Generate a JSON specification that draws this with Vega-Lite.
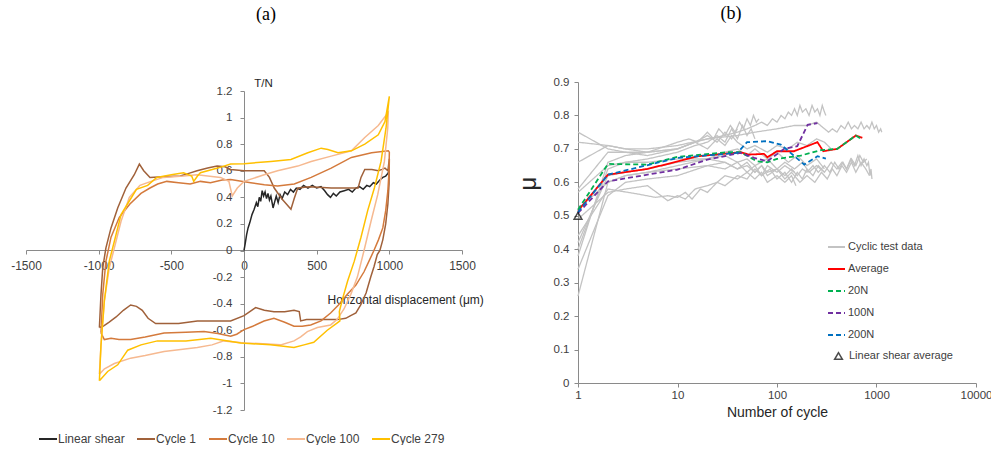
{
"$schema": "https://vega.github.io/schema/vega-lite/v6.json",
"padding": {"left": 10, "top": 5, "right": 0, "bottom": 0},
"bounds": "flush",
"spacing": 116,
"config": {"view": {"stroke": null}, "font": "Liberation Sans", "axis": {"grid": false, "domainColor": "#8a8a8a", "tickColor": "#8a8a8a", "labelColor": "#404040", "titleColor": "#262626", "titleFontWeight": "normal", "labelFlush": false}, "title": {"font": "Liberation Serif", "fontSize": 18, "fontWeight": "normal", "color": "#000000"}},
"resolve": {"scale": {"color": "independent", "strokeDash": "independent", "shape": "independent", "x": "independent", "y": "independent"}},
"hconcat": [
{
"width": 436, "height": 328,
"title": {"text": "(a)", "dx": 22, "offset": 44, "baseline": "middle"},
"data": {"values": [
{"s":"Linear shear","o":1,"x":0,"y":0},{"s":"Linear shear","o":2,"x":8,"y":0.05},{"s":"Linear shear","o":3,"x":18,"y":0.12},{"s":"Linear shear","o":4,"x":28,"y":0.17},{"s":"Linear shear","o":5,"x":40,"y":0.21},{"s":"Linear shear","o":6,"x":55,"y":0.27},{"s":"Linear shear","o":7,"x":70,"y":0.31},{"s":"Linear shear","o":8,"x":85,"y":0.36},{"s":"Linear shear","o":9,"x":95,"y":0.33},{"s":"Linear shear","o":10,"x":105,"y":0.4},{"s":"Linear shear","o":11,"x":115,"y":0.37},{"s":"Linear shear","o":12,"x":125,"y":0.45},{"s":"Linear shear","o":13,"x":135,"y":0.41},{"s":"Linear shear","o":14,"x":145,"y":0.44},{"s":"Linear shear","o":15,"x":155,"y":0.39},{"s":"Linear shear","o":16,"x":165,"y":0.43},{"s":"Linear shear","o":17,"x":175,"y":0.38},{"s":"Linear shear","o":18,"x":185,"y":0.41},{"s":"Linear shear","o":19,"x":200,"y":0.32},{"s":"Linear shear","o":20,"x":212,"y":0.37},{"s":"Linear shear","o":21,"x":222,"y":0.41},{"s":"Linear shear","o":22,"x":235,"y":0.36},{"s":"Linear shear","o":23,"x":248,"y":0.42},{"s":"Linear shear","o":24,"x":262,"y":0.39},{"s":"Linear shear","o":25,"x":280,"y":0.44},{"s":"Linear shear","o":26,"x":300,"y":0.42},{"s":"Linear shear","o":27,"x":320,"y":0.46},{"s":"Linear shear","o":28,"x":340,"y":0.44},{"s":"Linear shear","o":29,"x":360,"y":0.47},{"s":"Linear shear","o":30,"x":385,"y":0.46},{"s":"Linear shear","o":31,"x":410,"y":0.49},{"s":"Linear shear","o":32,"x":440,"y":0.47},{"s":"Linear shear","o":33,"x":470,"y":0.49},{"s":"Linear shear","o":34,"x":500,"y":0.47},{"s":"Linear shear","o":35,"x":530,"y":0.48},{"s":"Linear shear","o":36,"x":555,"y":0.45},{"s":"Linear shear","o":37,"x":575,"y":0.42},{"s":"Linear shear","o":38,"x":595,"y":0.4},{"s":"Linear shear","o":39,"x":615,"y":0.43},{"s":"Linear shear","o":40,"x":635,"y":0.41},{"s":"Linear shear","o":41,"x":660,"y":0.44},{"s":"Linear shear","o":42,"x":690,"y":0.45},{"s":"Linear shear","o":43,"x":720,"y":0.46},{"s":"Linear shear","o":44,"x":745,"y":0.44},{"s":"Linear shear","o":45,"x":770,"y":0.47},{"s":"Linear shear","o":46,"x":795,"y":0.48},{"s":"Linear shear","o":47,"x":820,"y":0.46},{"s":"Linear shear","o":48,"x":845,"y":0.49},{"s":"Linear shear","o":49,"x":865,"y":0.48},{"s":"Linear shear","o":50,"x":890,"y":0.51},{"s":"Linear shear","o":51,"x":910,"y":0.5},{"s":"Linear shear","o":52,"x":935,"y":0.53},{"s":"Linear shear","o":53,"x":955,"y":0.55},{"s":"Linear shear","o":54,"x":975,"y":0.56},{"s":"Linear shear","o":55,"x":990,"y":0.58},{"s":"Linear shear","o":56,"x":1000,"y":0.6},
{"s":"Cycle 1","o":1,"x":-995,"y":-0.58},{"s":"Cycle 1","o":2,"x":-984,"y":-0.33},{"s":"Cycle 1","o":3,"x":-972,"y":-0.13},{"s":"Cycle 1","o":4,"x":-950,"y":0.02},{"s":"Cycle 1","o":5,"x":-915,"y":0.17},{"s":"Cycle 1","o":6,"x":-869,"y":0.32},{"s":"Cycle 1","o":7,"x":-812,"y":0.47},{"s":"Cycle 1","o":8,"x":-755,"y":0.57},{"s":"Cycle 1","o":9,"x":-720,"y":0.65},{"s":"Cycle 1","o":10,"x":-690,"y":0.6},{"s":"Cycle 1","o":11,"x":-647,"y":0.55},{"s":"Cycle 1","o":12,"x":-560,"y":0.555},{"s":"Cycle 1","o":13,"x":-439,"y":0.56},{"s":"Cycle 1","o":14,"x":-380,"y":0.58},{"s":"Cycle 1","o":15,"x":-323,"y":0.6},{"s":"Cycle 1","o":16,"x":-250,"y":0.62},{"s":"Cycle 1","o":17,"x":-185,"y":0.635},{"s":"Cycle 1","o":18,"x":-130,"y":0.63},{"s":"Cycle 1","o":19,"x":-92,"y":0.61},{"s":"Cycle 1","o":20,"x":0,"y":0.6},{"s":"Cycle 1","o":21,"x":139,"y":0.6},{"s":"Cycle 1","o":22,"x":175,"y":0.55},{"s":"Cycle 1","o":23,"x":208,"y":0.47},{"s":"Cycle 1","o":24,"x":260,"y":0.39},{"s":"Cycle 1","o":25,"x":323,"y":0.31},{"s":"Cycle 1","o":26,"x":345,"y":0.39},{"s":"Cycle 1","o":27,"x":370,"y":0.47},{"s":"Cycle 1","o":28,"x":450,"y":0.48},{"s":"Cycle 1","o":29,"x":600,"y":0.47},{"s":"Cycle 1","o":30,"x":700,"y":0.47},{"s":"Cycle 1","o":31,"x":785,"y":0.47},{"s":"Cycle 1","o":32,"x":805,"y":0.55},{"s":"Cycle 1","o":33,"x":831,"y":0.61},{"s":"Cycle 1","o":34,"x":880,"y":0.61},{"s":"Cycle 1","o":35,"x":924,"y":0.6},{"s":"Cycle 1","o":36,"x":950,"y":0.61},{"s":"Cycle 1","o":37,"x":970,"y":0.62},{"s":"Cycle 1","o":38,"x":990,"y":0.6},{"s":"Cycle 1","o":39,"x":1000,"y":0.69},{"s":"Cycle 1","o":40,"x":998,"y":0.5},{"s":"Cycle 1","o":41,"x":990,"y":0.35},{"s":"Cycle 1","o":42,"x":975,"y":0.2},{"s":"Cycle 1","o":43,"x":955,"y":0.08},{"s":"Cycle 1","o":44,"x":935,"y":0},{"s":"Cycle 1","o":45,"x":917,"y":-0.03},{"s":"Cycle 1","o":46,"x":895,"y":-0.12},{"s":"Cycle 1","o":47,"x":872,"y":-0.2},{"s":"Cycle 1","o":48,"x":840,"y":-0.32},{"s":"Cycle 1","o":49,"x":803,"y":-0.41},{"s":"Cycle 1","o":50,"x":770,"y":-0.47},{"s":"Cycle 1","o":51,"x":734,"y":-0.49},{"s":"Cycle 1","o":52,"x":700,"y":-0.51},{"s":"Cycle 1","o":53,"x":642,"y":-0.52},{"s":"Cycle 1","o":54,"x":505,"y":-0.52},{"s":"Cycle 1","o":55,"x":430,"y":-0.52},{"s":"Cycle 1","o":56,"x":390,"y":-0.53},{"s":"Cycle 1","o":57,"x":380,"y":-0.46},{"s":"Cycle 1","o":58,"x":344,"y":-0.45},{"s":"Cycle 1","o":59,"x":280,"y":-0.46},{"s":"Cycle 1","o":60,"x":206,"y":-0.46},{"s":"Cycle 1","o":61,"x":140,"y":-0.45},{"s":"Cycle 1","o":62,"x":80,"y":-0.43},{"s":"Cycle 1","o":63,"x":40,"y":-0.46},{"s":"Cycle 1","o":64,"x":0,"y":-0.49},{"s":"Cycle 1","o":65,"x":-92,"y":-0.53},{"s":"Cycle 1","o":66,"x":-321,"y":-0.53},{"s":"Cycle 1","o":67,"x":-450,"y":-0.55},{"s":"Cycle 1","o":68,"x":-608,"y":-0.55},{"s":"Cycle 1","o":69,"x":-660,"y":-0.51},{"s":"Cycle 1","o":70,"x":-700,"y":-0.45},{"s":"Cycle 1","o":71,"x":-740,"y":-0.42},{"s":"Cycle 1","o":72,"x":-780,"y":-0.41},{"s":"Cycle 1","o":73,"x":-830,"y":-0.45},{"s":"Cycle 1","o":74,"x":-880,"y":-0.5},{"s":"Cycle 1","o":75,"x":-930,"y":-0.54},{"s":"Cycle 1","o":76,"x":-970,"y":-0.57},{"s":"Cycle 1","o":77,"x":-995,"y":-0.58},
{"s":"Cycle 10","o":1,"x":-984,"y":-0.62},{"s":"Cycle 10","o":2,"x":-972,"y":-0.33},{"s":"Cycle 10","o":3,"x":-950,"y":-0.08},{"s":"Cycle 10","o":4,"x":-915,"y":0.1},{"s":"Cycle 10","o":5,"x":-858,"y":0.25},{"s":"Cycle 10","o":6,"x":-785,"y":0.35},{"s":"Cycle 10","o":7,"x":-709,"y":0.43},{"s":"Cycle 10","o":8,"x":-647,"y":0.47},{"s":"Cycle 10","o":9,"x":-594,"y":0.5},{"s":"Cycle 10","o":10,"x":-531,"y":0.52},{"s":"Cycle 10","o":11,"x":-450,"y":0.51},{"s":"Cycle 10","o":12,"x":-370,"y":0.5},{"s":"Cycle 10","o":13,"x":-300,"y":0.52},{"s":"Cycle 10","o":14,"x":-231,"y":0.51},{"s":"Cycle 10","o":15,"x":-150,"y":0.53},{"s":"Cycle 10","o":16,"x":-92,"y":0.535},{"s":"Cycle 10","o":17,"x":46,"y":0.51},{"s":"Cycle 10","o":18,"x":140,"y":0.495},{"s":"Cycle 10","o":19,"x":231,"y":0.485},{"s":"Cycle 10","o":20,"x":346,"y":0.5},{"s":"Cycle 10","o":21,"x":462,"y":0.55},{"s":"Cycle 10","o":22,"x":600,"y":0.62},{"s":"Cycle 10","o":23,"x":739,"y":0.7},{"s":"Cycle 10","o":24,"x":878,"y":0.735},{"s":"Cycle 10","o":25,"x":993,"y":0.75},{"s":"Cycle 10","o":26,"x":1000,"y":0.74},{"s":"Cycle 10","o":27,"x":998,"y":0.6},{"s":"Cycle 10","o":28,"x":990,"y":0.45},{"s":"Cycle 10","o":29,"x":975,"y":0.3},{"s":"Cycle 10","o":30,"x":955,"y":0.17},{"s":"Cycle 10","o":31,"x":925,"y":0.08},{"s":"Cycle 10","o":32,"x":894,"y":0},{"s":"Cycle 10","o":33,"x":860,"y":-0.08},{"s":"Cycle 10","o":34,"x":826,"y":-0.16},{"s":"Cycle 10","o":35,"x":770,"y":-0.26},{"s":"Cycle 10","o":36,"x":711,"y":-0.33},{"s":"Cycle 10","o":37,"x":650,"y":-0.41},{"s":"Cycle 10","o":38,"x":596,"y":-0.47},{"s":"Cycle 10","o":39,"x":530,"y":-0.53},{"s":"Cycle 10","o":40,"x":459,"y":-0.56},{"s":"Cycle 10","o":41,"x":400,"y":-0.57},{"s":"Cycle 10","o":42,"x":344,"y":-0.57},{"s":"Cycle 10","o":43,"x":280,"y":-0.54},{"s":"Cycle 10","o":44,"x":206,"y":-0.51},{"s":"Cycle 10","o":45,"x":138,"y":-0.53},{"s":"Cycle 10","o":46,"x":60,"y":-0.57},{"s":"Cycle 10","o":47,"x":0,"y":-0.595},{"s":"Cycle 10","o":48,"x":-50,"y":-0.63},{"s":"Cycle 10","o":49,"x":-92,"y":-0.645},{"s":"Cycle 10","o":50,"x":-180,"y":-0.625},{"s":"Cycle 10","o":51,"x":-275,"y":-0.61},{"s":"Cycle 10","o":52,"x":-400,"y":-0.615},{"s":"Cycle 10","o":53,"x":-550,"y":-0.62},{"s":"Cycle 10","o":54,"x":-680,"y":-0.65},{"s":"Cycle 10","o":55,"x":-780,"y":-0.67},{"s":"Cycle 10","o":56,"x":-860,"y":-0.67},{"s":"Cycle 10","o":57,"x":-915,"y":-0.66},{"s":"Cycle 10","o":58,"x":-961,"y":-0.67},{"s":"Cycle 10","o":59,"x":-984,"y":-0.62},
{"s":"Cycle 100","o":1,"x":-995,"y":-0.93},{"s":"Cycle 100","o":2,"x":-984,"y":-0.71},{"s":"Cycle 100","o":3,"x":-961,"y":-0.38},{"s":"Cycle 100","o":4,"x":-927,"y":-0.13},{"s":"Cycle 100","o":5,"x":-892,"y":0.02},{"s":"Cycle 100","o":6,"x":-846,"y":0.22},{"s":"Cycle 100","o":7,"x":-789,"y":0.4},{"s":"Cycle 100","o":8,"x":-716,"y":0.49},{"s":"Cycle 100","o":9,"x":-640,"y":0.52},{"s":"Cycle 100","o":10,"x":-554,"y":0.55},{"s":"Cycle 100","o":11,"x":-416,"y":0.56},{"s":"Cycle 100","o":12,"x":-323,"y":0.57},{"s":"Cycle 100","o":13,"x":-162,"y":0.55},{"s":"Cycle 100","o":14,"x":-104,"y":0.52},{"s":"Cycle 100","o":15,"x":-81,"y":0.41},{"s":"Cycle 100","o":16,"x":-46,"y":0.47},{"s":"Cycle 100","o":17,"x":0,"y":0.52},{"s":"Cycle 100","o":18,"x":139,"y":0.57},{"s":"Cycle 100","o":19,"x":231,"y":0.6},{"s":"Cycle 100","o":20,"x":370,"y":0.635},{"s":"Cycle 100","o":21,"x":462,"y":0.67},{"s":"Cycle 100","o":22,"x":600,"y":0.71},{"s":"Cycle 100","o":23,"x":739,"y":0.75},{"s":"Cycle 100","o":24,"x":831,"y":0.85},{"s":"Cycle 100","o":25,"x":924,"y":0.94},{"s":"Cycle 100","o":26,"x":993,"y":1.04},{"s":"Cycle 100","o":27,"x":989,"y":0.92},{"s":"Cycle 100","o":28,"x":966,"y":0.67},{"s":"Cycle 100","o":29,"x":920,"y":0.42},{"s":"Cycle 100","o":30,"x":874,"y":0.22},{"s":"Cycle 100","o":31,"x":826,"y":0},{"s":"Cycle 100","o":32,"x":780,"y":-0.2},{"s":"Cycle 100","o":33,"x":735,"y":-0.33},{"s":"Cycle 100","o":34,"x":688,"y":-0.44},{"s":"Cycle 100","o":35,"x":640,"y":-0.52},{"s":"Cycle 100","o":36,"x":596,"y":-0.56},{"s":"Cycle 100","o":37,"x":505,"y":-0.58},{"s":"Cycle 100","o":38,"x":436,"y":-0.61},{"s":"Cycle 100","o":39,"x":390,"y":-0.65},{"s":"Cycle 100","o":40,"x":344,"y":-0.68},{"s":"Cycle 100","o":41,"x":252,"y":-0.71},{"s":"Cycle 100","o":42,"x":100,"y":-0.7},{"s":"Cycle 100","o":43,"x":0,"y":-0.695},{"s":"Cycle 100","o":44,"x":-138,"y":-0.68},{"s":"Cycle 100","o":45,"x":-220,"y":-0.71},{"s":"Cycle 100","o":46,"x":-321,"y":-0.73},{"s":"Cycle 100","o":47,"x":-550,"y":-0.76},{"s":"Cycle 100","o":48,"x":-680,"y":-0.79},{"s":"Cycle 100","o":49,"x":-780,"y":-0.81},{"s":"Cycle 100","o":50,"x":-892,"y":-0.85},{"s":"Cycle 100","o":51,"x":-960,"y":-0.89},{"s":"Cycle 100","o":52,"x":-995,"y":-0.93},
{"s":"Cycle 279","o":1,"x":-995,"y":-0.98},{"s":"Cycle 279","o":2,"x":-984,"y":-0.71},{"s":"Cycle 279","o":3,"x":-961,"y":-0.38},{"s":"Cycle 279","o":4,"x":-927,"y":-0.08},{"s":"Cycle 279","o":5,"x":-892,"y":0.07},{"s":"Cycle 279","o":6,"x":-846,"y":0.27},{"s":"Cycle 279","o":7,"x":-785,"y":0.38},{"s":"Cycle 279","o":8,"x":-740,"y":0.46},{"s":"Cycle 279","o":9,"x":-663,"y":0.49},{"s":"Cycle 279","o":10,"x":-600,"y":0.55},{"s":"Cycle 279","o":11,"x":-500,"y":0.57},{"s":"Cycle 279","o":12,"x":-416,"y":0.585},{"s":"Cycle 279","o":13,"x":-360,"y":0.56},{"s":"Cycle 279","o":14,"x":-346,"y":0.52},{"s":"Cycle 279","o":15,"x":-320,"y":0.56},{"s":"Cycle 279","o":16,"x":-300,"y":0.585},{"s":"Cycle 279","o":17,"x":-181,"y":0.62},{"s":"Cycle 279","o":18,"x":-92,"y":0.65},{"s":"Cycle 279","o":19,"x":0,"y":0.653},{"s":"Cycle 279","o":20,"x":185,"y":0.67},{"s":"Cycle 279","o":21,"x":323,"y":0.685},{"s":"Cycle 279","o":22,"x":439,"y":0.735},{"s":"Cycle 279","o":23,"x":531,"y":0.77},{"s":"Cycle 279","o":24,"x":577,"y":0.76},{"s":"Cycle 279","o":25,"x":647,"y":0.735},{"s":"Cycle 279","o":26,"x":739,"y":0.75},{"s":"Cycle 279","o":27,"x":831,"y":0.8},{"s":"Cycle 279","o":28,"x":924,"y":0.87},{"s":"Cycle 279","o":29,"x":970,"y":0.97},{"s":"Cycle 279","o":30,"x":1000,"y":1.16},{"s":"Cycle 279","o":31,"x":977,"y":0.92},{"s":"Cycle 279","o":32,"x":943,"y":0.67},{"s":"Cycle 279","o":33,"x":897,"y":0.47},{"s":"Cycle 279","o":34,"x":851,"y":0.3},{"s":"Cycle 279","o":35,"x":805,"y":0.1},{"s":"Cycle 279","o":36,"x":759,"y":-0.08},{"s":"Cycle 279","o":37,"x":713,"y":-0.23},{"s":"Cycle 279","o":38,"x":679,"y":-0.36},{"s":"Cycle 279","o":39,"x":656,"y":-0.46},{"s":"Cycle 279","o":40,"x":660,"y":-0.53},{"s":"Cycle 279","o":41,"x":642,"y":-0.545},{"s":"Cycle 279","o":42,"x":573,"y":-0.6},{"s":"Cycle 279","o":43,"x":480,"y":-0.69},{"s":"Cycle 279","o":44,"x":413,"y":-0.71},{"s":"Cycle 279","o":45,"x":344,"y":-0.73},{"s":"Cycle 279","o":46,"x":183,"y":-0.71},{"s":"Cycle 279","o":47,"x":-23,"y":-0.696},{"s":"Cycle 279","o":48,"x":-229,"y":-0.66},{"s":"Cycle 279","o":49,"x":-400,"y":-0.68},{"s":"Cycle 279","o":50,"x":-596,"y":-0.68},{"s":"Cycle 279","o":51,"x":-709,"y":-0.71},{"s":"Cycle 279","o":52,"x":-800,"y":-0.75},{"s":"Cycle 279","o":53,"x":-869,"y":-0.86},{"s":"Cycle 279","o":54,"x":-938,"y":-0.91},{"s":"Cycle 279","o":55,"x":-995,"y":-0.98}
]},
"mark": {"type": "line", "strokeWidth": 1.5},
"encoding": {
"x": {"field": "x", "type": "quantitative", "scale": {"domain": [-1500, 1500], "nice": false, "zero": false},
 "axis": {"values": [-1500, -1000, -500, 0, 500, 1000, 1500], "labelExpr": "'' + datum.value", "offset": -160, "tickSize": 4, "labelPadding": 6, "labelFontSize": 12, "title": "Horizontal displacement (μm)", "titleFontSize": 12, "titleX": 301, "titleY": 49, "titleAlign": "left", "titleBaseline": "middle"}},
"y": {"field": "y", "type": "quantitative", "scale": {"domain": [-1.2, 1.2], "range": [328, 9], "nice": false, "zero": false},
 "axis": {"values": [-1.2, -1, -0.8, -0.6, -0.4, -0.2, 0, 0.2, 0.4, 0.6, 0.8, 1, 1.2], "labelExpr": "'' + datum.value", "offset": -218, "tickSize": 4, "labelPadding": 8, "labelFontSize": 11.5, "title": "T/N", "titleFontSize": 11.5, "titleAngle": 0, "titleX": 19, "titleY": 1, "titleAlign": "center", "titleBaseline": "middle"}},
"color": {"field": "s", "type": "nominal", "scale": {"domain": ["Linear shear", "Cycle 1", "Cycle 10", "Cycle 100", "Cycle 279"], "range": ["#262626", "#a0613a", "#d47a3c", "#f6b990", "#ffc000"]},
 "legend": {"title": null, "orient": "none", "legendX": 12, "legendY": 347, "direction": "horizontal", "columns": 5, "symbolType": "stroke", "symbolSize": 324, "symbolStrokeWidth": 2, "labelFontSize": 12, "labelColor": "#404040", "labelOffset": 0, "columnPadding": 8}},
"order": {"field": "o", "type": "quantitative"}
}
},
{
"width": 398, "height": 301,
"title": {"text": "(b)", "dx": -46, "offset": 44, "baseline": "middle"},
"encoding": {
"x": {"field": "x", "type": "quantitative", "scale": {"type": "log", "domain": [1, 10000], "nice": false},
 "axis": {"values": [1, 10, 100, 1000, 10000], "labelExpr": "'' + datum.value", "tickSize": 4, "labelPadding": 2, "labelFontSize": 11.5, "title": "Number of cycle", "titleFontSize": 14, "titlePadding": 5}},
"y": {"field": "y", "type": "quantitative", "scale": {"domain": [0, 0.9], "nice": false},
 "axis": {"values": [0, 0.1, 0.2, 0.3, 0.4, 0.5, 0.6, 0.7, 0.8, 0.9], "labelExpr": "datum.value == 0 ? '0' : format(datum.value, '.1f')", "tickSize": 4, "labelPadding": 5, "labelFontSize": 11.5, "title": "μ", "titleFontSize": 24, "titleAngle": 270, "titleX": -50, "titleY": 101, "titleAlign": "center", "titleBaseline": "middle"}}
},
"layer": [
{
"data": {"values": [
{"s":"Cyclic test data","id":"g1","x":1,"y":0.75},{"s":"Cyclic test data","id":"g1","x":2,"y":0.7},{"s":"Cyclic test data","id":"g1","x":3,"y":0.69},{"s":"Cyclic test data","id":"g1","x":5,"y":0.69},{"s":"Cyclic test data","id":"g1","x":8,"y":0.71},{"s":"Cyclic test data","id":"g1","x":10,"y":0.72},{"s":"Cyclic test data","id":"g1","x":13,"y":0.73},{"s":"Cyclic test data","id":"g1","x":16,"y":0.72},{"s":"Cyclic test data","id":"g1","x":20,"y":0.75},{"s":"Cyclic test data","id":"g1","x":23,"y":0.73},{"s":"Cyclic test data","id":"g1","x":26,"y":0.76},{"s":"Cyclic test data","id":"g1","x":30,"y":0.74},{"s":"Cyclic test data","id":"g1","x":34,"y":0.77},{"s":"Cyclic test data","id":"g1","x":38,"y":0.75},{"s":"Cyclic test data","id":"g1","x":42,"y":0.78},{"s":"Cyclic test data","id":"g1","x":46,"y":0.76},{"s":"Cyclic test data","id":"g1","x":50,"y":0.79},{"s":"Cyclic test data","id":"g1","x":54,"y":0.77},{"s":"Cyclic test data","id":"g1","x":58,"y":0.8},{"s":"Cyclic test data","id":"g1","x":62,"y":0.78},{"s":"Cyclic test data","id":"g1","x":66,"y":0.79},
{"s":"Cyclic test data","id":"g2","x":1,"y":0.72},{"s":"Cyclic test data","id":"g2","x":2,"y":0.71},{"s":"Cyclic test data","id":"g2","x":3,"y":0.7},{"s":"Cyclic test data","id":"g2","x":5,"y":0.69},{"s":"Cyclic test data","id":"g2","x":10,"y":0.7},{"s":"Cyclic test data","id":"g2","x":15,"y":0.72},{"s":"Cyclic test data","id":"g2","x":20,"y":0.73},{"s":"Cyclic test data","id":"g2","x":30,"y":0.74},{"s":"Cyclic test data","id":"g2","x":40,"y":0.75},{"s":"Cyclic test data","id":"g2","x":50,"y":0.76},{"s":"Cyclic test data","id":"g2","x":60,"y":0.77},{"s":"Cyclic test data","id":"g2","x":70,"y":0.78},{"s":"Cyclic test data","id":"g2","x":80,"y":0.77},{"s":"Cyclic test data","id":"g2","x":90,"y":0.79},{"s":"Cyclic test data","id":"g2","x":100,"y":0.78},{"s":"Cyclic test data","id":"g2","x":110,"y":0.8},{"s":"Cyclic test data","id":"g2","x":120,"y":0.79},{"s":"Cyclic test data","id":"g2","x":130,"y":0.81},{"s":"Cyclic test data","id":"g2","x":140,"y":0.8},{"s":"Cyclic test data","id":"g2","x":150,"y":0.82},{"s":"Cyclic test data","id":"g2","x":160,"y":0.8},{"s":"Cyclic test data","id":"g2","x":170,"y":0.83},{"s":"Cyclic test data","id":"g2","x":180,"y":0.81},{"s":"Cyclic test data","id":"g2","x":195,"y":0.82},{"s":"Cyclic test data","id":"g2","x":210,"y":0.8},{"s":"Cyclic test data","id":"g2","x":225,"y":0.83},{"s":"Cyclic test data","id":"g2","x":240,"y":0.81},{"s":"Cyclic test data","id":"g2","x":255,"y":0.82},{"s":"Cyclic test data","id":"g2","x":270,"y":0.8},{"s":"Cyclic test data","id":"g2","x":285,"y":0.83},{"s":"Cyclic test data","id":"g2","x":300,"y":0.81},{"s":"Cyclic test data","id":"g2","x":310,"y":0.8},
{"s":"Cyclic test data","id":"g3","x":1,"y":0.66},{"s":"Cyclic test data","id":"g3","x":2,"y":0.71},{"s":"Cyclic test data","id":"g3","x":3,"y":0.7},{"s":"Cyclic test data","id":"g3","x":5,"y":0.7},{"s":"Cyclic test data","id":"g3","x":10,"y":0.71},{"s":"Cyclic test data","id":"g3","x":20,"y":0.73},{"s":"Cyclic test data","id":"g3","x":40,"y":0.74},{"s":"Cyclic test data","id":"g3","x":60,"y":0.75},{"s":"Cyclic test data","id":"g3","x":100,"y":0.76},{"s":"Cyclic test data","id":"g3","x":150,"y":0.77},{"s":"Cyclic test data","id":"g3","x":200,"y":0.77},{"s":"Cyclic test data","id":"g3","x":250,"y":0.78},{"s":"Cyclic test data","id":"g3","x":300,"y":0.76},{"s":"Cyclic test data","id":"g3","x":330,"y":0.75},{"s":"Cyclic test data","id":"g3","x":360,"y":0.76},{"s":"Cyclic test data","id":"g3","x":400,"y":0.75},{"s":"Cyclic test data","id":"g3","x":440,"y":0.77},{"s":"Cyclic test data","id":"g3","x":480,"y":0.76},{"s":"Cyclic test data","id":"g3","x":520,"y":0.78},{"s":"Cyclic test data","id":"g3","x":560,"y":0.76},{"s":"Cyclic test data","id":"g3","x":600,"y":0.77},{"s":"Cyclic test data","id":"g3","x":650,"y":0.76},{"s":"Cyclic test data","id":"g3","x":700,"y":0.78},{"s":"Cyclic test data","id":"g3","x":750,"y":0.76},{"s":"Cyclic test data","id":"g3","x":800,"y":0.77},{"s":"Cyclic test data","id":"g3","x":850,"y":0.76},{"s":"Cyclic test data","id":"g3","x":900,"y":0.78},{"s":"Cyclic test data","id":"g3","x":950,"y":0.76},{"s":"Cyclic test data","id":"g3","x":1000,"y":0.77},{"s":"Cyclic test data","id":"g3","x":1050,"y":0.75},{"s":"Cyclic test data","id":"g3","x":1100,"y":0.76},{"s":"Cyclic test data","id":"g3","x":1130,"y":0.75},
{"s":"Cyclic test data","id":"g4","x":1,"y":0.58},{"s":"Cyclic test data","id":"g4","x":2,"y":0.69},{"s":"Cyclic test data","id":"g4","x":3,"y":0.69},{"s":"Cyclic test data","id":"g4","x":5,"y":0.68},{"s":"Cyclic test data","id":"g4","x":10,"y":0.7},{"s":"Cyclic test data","id":"g4","x":15,"y":0.72},{"s":"Cyclic test data","id":"g4","x":20,"y":0.74},{"s":"Cyclic test data","id":"g4","x":25,"y":0.72},{"s":"Cyclic test data","id":"g4","x":30,"y":0.75},{"s":"Cyclic test data","id":"g4","x":35,"y":0.73},{"s":"Cyclic test data","id":"g4","x":40,"y":0.76},
{"s":"Cyclic test data","id":"g5","x":1,"y":0.57},{"s":"Cyclic test data","id":"g5","x":2,"y":0.65},{"s":"Cyclic test data","id":"g5","x":3,"y":0.66},{"s":"Cyclic test data","id":"g5","x":5,"y":0.66},{"s":"Cyclic test data","id":"g5","x":10,"y":0.67},{"s":"Cyclic test data","id":"g5","x":20,"y":0.67},{"s":"Cyclic test data","id":"g5","x":30,"y":0.66},{"s":"Cyclic test data","id":"g5","x":40,"y":0.64},{"s":"Cyclic test data","id":"g5","x":50,"y":0.65},{"s":"Cyclic test data","id":"g5","x":60,"y":0.63},{"s":"Cyclic test data","id":"g5","x":70,"y":0.65},{"s":"Cyclic test data","id":"g5","x":80,"y":0.63},{"s":"Cyclic test data","id":"g5","x":100,"y":0.64},{"s":"Cyclic test data","id":"g5","x":120,"y":0.62},{"s":"Cyclic test data","id":"g5","x":140,"y":0.64},{"s":"Cyclic test data","id":"g5","x":160,"y":0.62},{"s":"Cyclic test data","id":"g5","x":180,"y":0.64},{"s":"Cyclic test data","id":"g5","x":200,"y":0.63},{"s":"Cyclic test data","id":"g5","x":230,"y":0.65},{"s":"Cyclic test data","id":"g5","x":260,"y":0.63},{"s":"Cyclic test data","id":"g5","x":300,"y":0.65},{"s":"Cyclic test data","id":"g5","x":340,"y":0.63},{"s":"Cyclic test data","id":"g5","x":380,"y":0.66},{"s":"Cyclic test data","id":"g5","x":420,"y":0.64},{"s":"Cyclic test data","id":"g5","x":460,"y":0.66},{"s":"Cyclic test data","id":"g5","x":500,"y":0.64},{"s":"Cyclic test data","id":"g5","x":550,"y":0.67},{"s":"Cyclic test data","id":"g5","x":600,"y":0.65},{"s":"Cyclic test data","id":"g5","x":650,"y":0.68},{"s":"Cyclic test data","id":"g5","x":700,"y":0.65},{"s":"Cyclic test data","id":"g5","x":750,"y":0.67},{"s":"Cyclic test data","id":"g5","x":800,"y":0.65},{"s":"Cyclic test data","id":"g5","x":830,"y":0.66},{"s":"Cyclic test data","id":"g5","x":860,"y":0.62},{"s":"Cyclic test data","id":"g5","x":880,"y":0.64},{"s":"Cyclic test data","id":"g5","x":900,"y":0.61},
{"s":"Cyclic test data","id":"g6","x":1,"y":0.52},{"s":"Cyclic test data","id":"g6","x":2,"y":0.6},{"s":"Cyclic test data","id":"g6","x":3,"y":0.62},{"s":"Cyclic test data","id":"g6","x":5,"y":0.63},{"s":"Cyclic test data","id":"g6","x":10,"y":0.64},{"s":"Cyclic test data","id":"g6","x":20,"y":0.65},{"s":"Cyclic test data","id":"g6","x":30,"y":0.64},{"s":"Cyclic test data","id":"g6","x":40,"y":0.66},{"s":"Cyclic test data","id":"g6","x":50,"y":0.63},{"s":"Cyclic test data","id":"g6","x":60,"y":0.65},{"s":"Cyclic test data","id":"g6","x":70,"y":0.62},{"s":"Cyclic test data","id":"g6","x":85,"y":0.64},{"s":"Cyclic test data","id":"g6","x":100,"y":0.61},{"s":"Cyclic test data","id":"g6","x":120,"y":0.63},{"s":"Cyclic test data","id":"g6","x":140,"y":0.6},{"s":"Cyclic test data","id":"g6","x":160,"y":0.63},{"s":"Cyclic test data","id":"g6","x":180,"y":0.61},{"s":"Cyclic test data","id":"g6","x":200,"y":0.64},{"s":"Cyclic test data","id":"g6","x":230,"y":0.62},{"s":"Cyclic test data","id":"g6","x":260,"y":0.65},{"s":"Cyclic test data","id":"g6","x":300,"y":0.63},{"s":"Cyclic test data","id":"g6","x":350,"y":0.66},{"s":"Cyclic test data","id":"g6","x":400,"y":0.64},{"s":"Cyclic test data","id":"g6","x":450,"y":0.66},{"s":"Cyclic test data","id":"g6","x":500,"y":0.64},{"s":"Cyclic test data","id":"g6","x":560,"y":0.67},{"s":"Cyclic test data","id":"g6","x":620,"y":0.65},{"s":"Cyclic test data","id":"g6","x":680,"y":0.68},{"s":"Cyclic test data","id":"g6","x":740,"y":0.66},{"s":"Cyclic test data","id":"g6","x":800,"y":0.67},
{"s":"Cyclic test data","id":"g7","x":1,"y":0.49},{"s":"Cyclic test data","id":"g7","x":2,"y":0.57},{"s":"Cyclic test data","id":"g7","x":3,"y":0.58},{"s":"Cyclic test data","id":"g7","x":5,"y":0.59},{"s":"Cyclic test data","id":"g7","x":8,"y":0.545},{"s":"Cyclic test data","id":"g7","x":10,"y":0.56},{"s":"Cyclic test data","id":"g7","x":12,"y":0.55},{"s":"Cyclic test data","id":"g7","x":15,"y":0.58},{"s":"Cyclic test data","id":"g7","x":20,"y":0.59},{"s":"Cyclic test data","id":"g7","x":25,"y":0.6},{"s":"Cyclic test data","id":"g7","x":30,"y":0.62},{"s":"Cyclic test data","id":"g7","x":40,"y":0.61},{"s":"Cyclic test data","id":"g7","x":50,"y":0.63},{"s":"Cyclic test data","id":"g7","x":60,"y":0.61},{"s":"Cyclic test data","id":"g7","x":70,"y":0.63},{"s":"Cyclic test data","id":"g7","x":80,"y":0.6},{"s":"Cyclic test data","id":"g7","x":100,"y":0.62},{"s":"Cyclic test data","id":"g7","x":120,"y":0.6},{"s":"Cyclic test data","id":"g7","x":140,"y":0.62},{"s":"Cyclic test data","id":"g7","x":155,"y":0.59},
{"s":"Cyclic test data","id":"g8","x":1,"y":0.44},{"s":"Cyclic test data","id":"g8","x":2,"y":0.58},{"s":"Cyclic test data","id":"g8","x":4,"y":0.565},{"s":"Cyclic test data","id":"g8","x":6,"y":0.555},{"s":"Cyclic test data","id":"g8","x":8,"y":0.56},{"s":"Cyclic test data","id":"g8","x":10,"y":0.555},{"s":"Cyclic test data","id":"g8","x":12,"y":0.57},{"s":"Cyclic test data","id":"g8","x":14,"y":0.55},{"s":"Cyclic test data","id":"g8","x":17,"y":0.58},{"s":"Cyclic test data","id":"g8","x":20,"y":0.57},{"s":"Cyclic test data","id":"g8","x":25,"y":0.6},{"s":"Cyclic test data","id":"g8","x":30,"y":0.59},{"s":"Cyclic test data","id":"g8","x":40,"y":0.62},{"s":"Cyclic test data","id":"g8","x":50,"y":0.61},{"s":"Cyclic test data","id":"g8","x":60,"y":0.64},{"s":"Cyclic test data","id":"g8","x":70,"y":0.62},{"s":"Cyclic test data","id":"g8","x":80,"y":0.65},{"s":"Cyclic test data","id":"g8","x":100,"y":0.63},{"s":"Cyclic test data","id":"g8","x":120,"y":0.65},{"s":"Cyclic test data","id":"g8","x":150,"y":0.63},
{"s":"Cyclic test data","id":"g9","x":1,"y":0.42},{"s":"Cyclic test data","id":"g9","x":2,"y":0.62},{"s":"Cyclic test data","id":"g9","x":3,"y":0.63},{"s":"Cyclic test data","id":"g9","x":5,"y":0.64},{"s":"Cyclic test data","id":"g9","x":10,"y":0.66},{"s":"Cyclic test data","id":"g9","x":20,"y":0.67},{"s":"Cyclic test data","id":"g9","x":30,"y":0.68},{"s":"Cyclic test data","id":"g9","x":40,"y":0.66},{"s":"Cyclic test data","id":"g9","x":50,"y":0.67},{"s":"Cyclic test data","id":"g9","x":60,"y":0.65},{"s":"Cyclic test data","id":"g9","x":80,"y":0.67},{"s":"Cyclic test data","id":"g9","x":100,"y":0.64},{"s":"Cyclic test data","id":"g9","x":120,"y":0.66},{"s":"Cyclic test data","id":"g9","x":150,"y":0.64},{"s":"Cyclic test data","id":"g9","x":180,"y":0.66},{"s":"Cyclic test data","id":"g9","x":210,"y":0.63},{"s":"Cyclic test data","id":"g9","x":250,"y":0.65},{"s":"Cyclic test data","id":"g9","x":300,"y":0.63},
{"s":"Cyclic test data","id":"g10","x":1,"y":0.4},{"s":"Cyclic test data","id":"g10","x":2,"y":0.64},{"s":"Cyclic test data","id":"g10","x":3,"y":0.66},{"s":"Cyclic test data","id":"g10","x":5,"y":0.67},{"s":"Cyclic test data","id":"g10","x":10,"y":0.69},{"s":"Cyclic test data","id":"g10","x":15,"y":0.71},{"s":"Cyclic test data","id":"g10","x":20,"y":0.72},{"s":"Cyclic test data","id":"g10","x":25,"y":0.74},{"s":"Cyclic test data","id":"g10","x":30,"y":0.72},{"s":"Cyclic test data","id":"g10","x":35,"y":0.76},{"s":"Cyclic test data","id":"g10","x":40,"y":0.73},{"s":"Cyclic test data","id":"g10","x":45,"y":0.77},{"s":"Cyclic test data","id":"g10","x":50,"y":0.74},{"s":"Cyclic test data","id":"g10","x":55,"y":0.76},{"s":"Cyclic test data","id":"g10","x":60,"y":0.73},
{"s":"Cyclic test data","id":"g11","x":1,"y":0.38},{"s":"Cyclic test data","id":"g11","x":2,"y":0.66},{"s":"Cyclic test data","id":"g11","x":3,"y":0.68},{"s":"Cyclic test data","id":"g11","x":5,"y":0.69},{"s":"Cyclic test data","id":"g11","x":10,"y":0.7},{"s":"Cyclic test data","id":"g11","x":15,"y":0.72},{"s":"Cyclic test data","id":"g11","x":20,"y":0.7},{"s":"Cyclic test data","id":"g11","x":25,"y":0.73},{"s":"Cyclic test data","id":"g11","x":30,"y":0.71},{"s":"Cyclic test data","id":"g11","x":35,"y":0.74},{"s":"Cyclic test data","id":"g11","x":40,"y":0.72},{"s":"Cyclic test data","id":"g11","x":50,"y":0.7},{"s":"Cyclic test data","id":"g11","x":60,"y":0.71},{"s":"Cyclic test data","id":"g11","x":80,"y":0.69},{"s":"Cyclic test data","id":"g11","x":100,"y":0.71},{"s":"Cyclic test data","id":"g11","x":130,"y":0.7},{"s":"Cyclic test data","id":"g11","x":160,"y":0.72},{"s":"Cyclic test data","id":"g11","x":200,"y":0.71},{"s":"Cyclic test data","id":"g11","x":250,"y":0.73},{"s":"Cyclic test data","id":"g11","x":300,"y":0.72},{"s":"Cyclic test data","id":"g11","x":350,"y":0.7},
{"s":"Cyclic test data","id":"g12","x":1,"y":0.34},{"s":"Cyclic test data","id":"g12","x":2,"y":0.56},{"s":"Cyclic test data","id":"g12","x":3,"y":0.6},{"s":"Cyclic test data","id":"g12","x":5,"y":0.61},{"s":"Cyclic test data","id":"g12","x":10,"y":0.62},{"s":"Cyclic test data","id":"g12","x":20,"y":0.65},{"s":"Cyclic test data","id":"g12","x":30,"y":0.66},{"s":"Cyclic test data","id":"g12","x":40,"y":0.64},{"s":"Cyclic test data","id":"g12","x":50,"y":0.66},{"s":"Cyclic test data","id":"g12","x":60,"y":0.63},{"s":"Cyclic test data","id":"g12","x":70,"y":0.65},{"s":"Cyclic test data","id":"g12","x":80,"y":0.62},{"s":"Cyclic test data","id":"g12","x":100,"y":0.64},{"s":"Cyclic test data","id":"g12","x":120,"y":0.61},{"s":"Cyclic test data","id":"g12","x":140,"y":0.63},{"s":"Cyclic test data","id":"g12","x":170,"y":0.6},{"s":"Cyclic test data","id":"g12","x":200,"y":0.62},{"s":"Cyclic test data","id":"g12","x":240,"y":0.6},{"s":"Cyclic test data","id":"g12","x":280,"y":0.63},{"s":"Cyclic test data","id":"g12","x":320,"y":0.61},{"s":"Cyclic test data","id":"g12","x":360,"y":0.64},{"s":"Cyclic test data","id":"g12","x":400,"y":0.62},{"s":"Cyclic test data","id":"g12","x":450,"y":0.65},{"s":"Cyclic test data","id":"g12","x":500,"y":0.63},{"s":"Cyclic test data","id":"g12","x":560,"y":0.66},{"s":"Cyclic test data","id":"g12","x":620,"y":0.63},{"s":"Cyclic test data","id":"g12","x":700,"y":0.66},{"s":"Cyclic test data","id":"g12","x":780,"y":0.64},{"s":"Cyclic test data","id":"g12","x":850,"y":0.62},
{"s":"Cyclic test data","id":"g13","x":1,"y":0.26},{"s":"Cyclic test data","id":"g13","x":2,"y":0.6},{"s":"Cyclic test data","id":"g13","x":3,"y":0.62},{"s":"Cyclic test data","id":"g13","x":5,"y":0.63},{"s":"Cyclic test data","id":"g13","x":10,"y":0.65},{"s":"Cyclic test data","id":"g13","x":20,"y":0.67},{"s":"Cyclic test data","id":"g13","x":30,"y":0.69},{"s":"Cyclic test data","id":"g13","x":40,"y":0.7},{"s":"Cyclic test data","id":"g13","x":50,"y":0.68},{"s":"Cyclic test data","id":"g13","x":60,"y":0.7},{"s":"Cyclic test data","id":"g13","x":80,"y":0.67},{"s":"Cyclic test data","id":"g13","x":100,"y":0.69},{"s":"Cyclic test data","id":"g13","x":130,"y":0.66},{"s":"Cyclic test data","id":"g13","x":160,"y":0.68},{"s":"Cyclic test data","id":"g13","x":200,"y":0.65},{"s":"Cyclic test data","id":"g13","x":250,"y":0.67},{"s":"Cyclic test data","id":"g13","x":300,"y":0.64}
]},
"mark": {"type": "line", "strokeWidth": 1.3},
"encoding": {
"color": {"field": "s", "type": "nominal", "scale": {"domain": ["Cyclic test data", "Average", "20N", "100N", "200N"], "range": ["#c3c3c3", "#ff0000", "#00b050", "#7030a0", "#0070c0"]},
 "legend": {"title": null, "orient": "none", "legendX": 249, "legendY": 158, "symbolType": "stroke", "symbolSize": 289, "symbolStrokeWidth": 2, "labelFontSize": 11, "labelColor": "#404040", "labelOffset": 2, "clipHeight": 14, "rowPadding": 8}},
"strokeDash": {"field": "s", "type": "nominal", "scale": {"domain": ["Cyclic test data", "Average", "20N", "100N", "200N"], "range": [[1, 0], [1, 0], [5, 3], [5, 3], [5, 3]]}, "legend": {"title": null, "orient": "none", "legendX": 249, "legendY": 158, "symbolType": "stroke", "symbolSize": 289, "symbolStrokeWidth": 2, "labelFontSize": 11, "labelColor": "#404040", "labelOffset": 2, "clipHeight": 14, "rowPadding": 8}},
"detail": {"field": "id"}
}
},
{
"data": {"values": [
{"s":"Average","id":"Average","x":1,"y":0.515},{"s":"Average","id":"Average","x":2,"y":0.623},{"s":"Average","id":"Average","x":5,"y":0.64},{"s":"Average","id":"Average","x":16,"y":0.678},{"s":"Average","id":"Average","x":43,"y":0.69},{"s":"Average","id":"Average","x":52,"y":0.683},{"s":"Average","id":"Average","x":74,"y":0.685},{"s":"Average","id":"Average","x":80,"y":0.675},{"s":"Average","id":"Average","x":100,"y":0.693},{"s":"Average","id":"Average","x":148,"y":0.693},{"s":"Average","id":"Average","x":255,"y":0.72},{"s":"Average","id":"Average","x":292,"y":0.693},{"s":"Average","id":"Average","x":403,"y":0.7},{"s":"Average","id":"Average","x":620,"y":0.74},{"s":"Average","id":"Average","x":720,"y":0.733},
{"s":"20N","id":"20N","x":1,"y":0.518},{"s":"20N","id":"20N","x":2,"y":0.655},{"s":"20N","id":"20N","x":5,"y":0.653},{"s":"20N","id":"20N","x":10,"y":0.676},{"s":"20N","id":"20N","x":32,"y":0.69},{"s":"20N","id":"20N","x":43,"y":0.69},{"s":"20N","id":"20N","x":63,"y":0.663},{"s":"20N","id":"20N","x":80,"y":0.66},{"s":"20N","id":"20N","x":100,"y":0.67},{"s":"20N","id":"20N","x":173,"y":0.68},{"s":"20N","id":"20N","x":275,"y":0.696},{"s":"20N","id":"20N","x":403,"y":0.7},{"s":"20N","id":"20N","x":620,"y":0.74},{"s":"20N","id":"20N","x":700,"y":0.73},
{"s":"100N","id":"100N","x":1,"y":0.508},{"s":"100N","id":"100N","x":2,"y":0.603},{"s":"100N","id":"100N","x":10,"y":0.638},{"s":"100N","id":"100N","x":20,"y":0.668},{"s":"100N","id":"100N","x":43,"y":0.688},{"s":"100N","id":"100N","x":59,"y":0.673},{"s":"100N","id":"100N","x":80,"y":0.663},{"s":"100N","id":"100N","x":118,"y":0.7},{"s":"100N","id":"100N","x":160,"y":0.708},{"s":"100N","id":"100N","x":203,"y":0.772},{"s":"100N","id":"100N","x":255,"y":0.777},
{"s":"200N","id":"200N","x":1,"y":0.511},{"s":"200N","id":"200N","x":2,"y":0.623},{"s":"200N","id":"200N","x":10,"y":0.673},{"s":"200N","id":"200N","x":40,"y":0.688},{"s":"200N","id":"200N","x":50,"y":0.72},{"s":"200N","id":"200N","x":80,"y":0.723},{"s":"200N","id":"200N","x":109,"y":0.713},{"s":"200N","id":"200N","x":137,"y":0.688},{"s":"200N","id":"200N","x":188,"y":0.653},{"s":"200N","id":"200N","x":255,"y":0.678},{"s":"200N","id":"200N","x":310,"y":0.671}
]},
"mark": {"type": "line", "strokeWidth": 1.8},
"encoding": {
"color": {"field": "s", "type": "nominal"},
"strokeDash": {"field": "s", "type": "nominal"},
"detail": {"field": "id"}
}
},
{
"data": {"values": [{"s": "Linear shear average", "x": 1, "y": 0.5}]},
"mark": {"type": "point", "filled": false, "color": "#000000", "strokeWidth": 1.5, "size": 60},
"encoding": {
"shape": {"field": "s", "type": "nominal", "scale": {"domain": ["Linear shear average"], "range": ["triangle-up"]},
 "legend": {"title": null, "orient": "none", "legendX": 255, "legendY": 267, "symbolSize": 60, "symbolStrokeColor": "#000000", "symbolFillColor": "transparent", "symbolStrokeWidth": 1.5, "labelFontSize": 11, "labelColor": "#404040", "labelOffset": 5, "clipHeight": 14}}
}
}
]
}
]
}
